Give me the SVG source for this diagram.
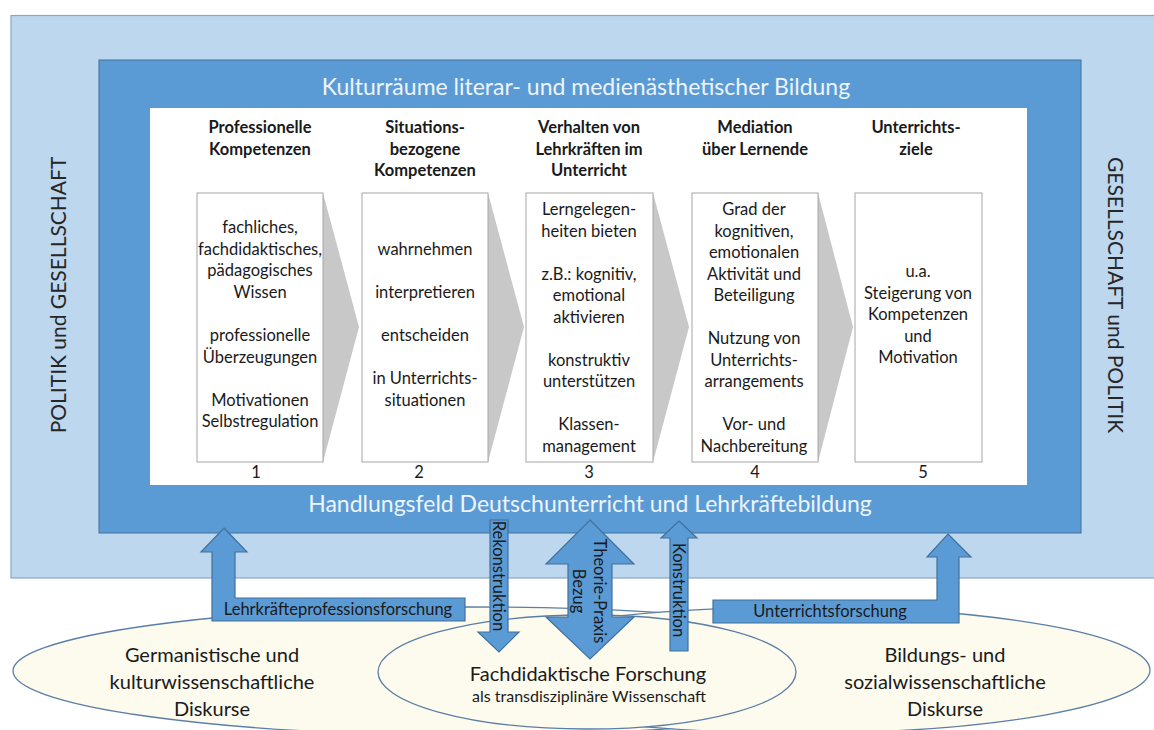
<svg xmlns="http://www.w3.org/2000/svg" width="1154" height="730" viewBox="0 0 1154 730">
<style>
.t{font-family:Lato,"Liberation Sans",sans-serif;font-size:16.5px;fill:#1a1a1a;text-anchor:middle}
.h{font-weight:bold}
.w{fill:#eef4fb;font-size:23px}
.side{font-size:21px;fill:#262626}
.el{font-size:20px}
.box{fill:#fff;stroke:#a6a6a6;stroke-width:1}
.chev{fill:#c8c8c8}
.arr{fill:#5b9bd5;stroke:#41719c;stroke-width:1.2;stroke-linejoin:miter}
.ellf{fill:#fdfaee}
.ello{fill:none;stroke:#5b7ea6;stroke-width:1.3}
</style>
<rect x="0" y="0" width="1154" height="730" fill="#fff"/>
<g id="frame">
<rect x="11" y="15.5" width="1150" height="562.5" fill="#bdd7ee" stroke="#8aa6c3" stroke-width="1.2"/>
<rect x="99" y="60" width="982" height="473" fill="#5b9bd5" stroke="#41719c" stroke-width="1"/>
<rect x="150" y="108" width="877" height="377" fill="#fff"/>
<text class="t w" x="586" y="95">Kulturräume literar- und medienästhetischer Bildung</text>
<text class="t w" x="590" y="512">Handlungsfeld Deutschunterricht und Lehrkräftebildung</text>
<text class="t side" transform="translate(66,295) rotate(-90)">POLITIK und GESELLSCHAFT</text>
<text class="t side" transform="translate(1108,295) rotate(90)">GESELLSCHAFT und POLITIK</text>
</g>
<g id="discourses">
<ellipse class="ellf" cx="470" cy="671" rx="457" ry="64"/>
<ellipse class="ello" cx="470" cy="671" rx="457" ry="64"/>
<ellipse class="ellf" cx="800" cy="670" rx="350" ry="63"/>
<ellipse class="ello" cx="800" cy="670" rx="350" ry="63"/>
<ellipse class="ellf" cx="587" cy="672" rx="209" ry="57"/>
<ellipse class="ello" cx="587" cy="672" rx="209" ry="57"/>
</g>
<g id="node-germanistik">
<text class="t el" x="212" y="662">Germanistische und</text>
<text class="t el" x="212" y="689">kulturwissenschaftliche</text>
<text class="t el" x="212" y="716">Diskurse</text>
</g>
<g id="node-fachdidaktik">
<text class="t el" x="588" y="681">Fachdidaktische Forschung</text>
<text class="t" style="font-size:16px" x="589" y="702">als transdisziplinäre Wissenschaft</text>
</g>
<g id="node-bildung">
<text class="t el" x="945" y="662">Bildungs- und</text>
<text class="t el" x="945" y="689">sozialwissenschaftliche</text>
<text class="t el" x="945" y="716">Diskurse</text>
</g>
<g id="chevrons">
<polygon class="chev" points="323,193 359,327 323,462"/>
<polygon class="chev" points="488,193 524,327 488,462"/>
<polygon class="chev" points="653,193 689,327 653,462"/>
<polygon class="chev" points="818,193 853,327 818,462"/>
</g>
<g id="col1">
<text class="t h" x="260" y="133">Professionelle</text>
<text class="t h" x="260" y="154.5">Kompetenzen</text>
<rect class="box" x="197" y="193" width="126" height="269"/>
<text class="t" x="260" y="233">fachliches,</text>
<text class="t" x="260" y="254.5">fachdidaktisches,</text>
<text class="t" x="260" y="276">pädagogisches</text>
<text class="t" x="260" y="297.5">Wissen</text>
<text class="t" x="260" y="341">professionelle</text>
<text class="t" x="260" y="362.5">Überzeugungen</text>
<text class="t" x="260" y="405.5">Motivationen</text>
<text class="t" x="260" y="427">Selbstregulation</text>
<text class="t" x="256" y="477.5">1</text>
</g>
<g id="col2">
<text class="t h" x="425" y="133">Situations-</text>
<text class="t h" x="425" y="154.5">bezogene</text>
<text class="t h" x="425" y="176">Kompetenzen</text>
<rect class="box" x="362" y="193" width="126" height="269"/>
<text class="t" x="425" y="255">wahrnehmen</text>
<text class="t" x="425" y="298">interpretieren</text>
<text class="t" x="425" y="341">entscheiden</text>
<text class="t" x="425" y="384">in Unterrichts-</text>
<text class="t" x="425" y="405.5">situationen</text>
<text class="t" x="419" y="477.5">2</text>
</g>
<g id="col3">
<text class="t h" x="589" y="133">Verhalten von</text>
<text class="t h" x="589" y="154.5">Lehrkräften im</text>
<text class="t h" x="589" y="176">Unterricht</text>
<rect class="box" x="526" y="193" width="127" height="269"/>
<text class="t" x="589" y="215">Lerngelegen-</text>
<text class="t" x="589" y="236.5">heiten bieten</text>
<text class="t" x="589" y="279.5">z.B.: kognitiv,</text>
<text class="t" x="589" y="301">emotional</text>
<text class="t" x="589" y="322.5">aktivieren</text>
<text class="t" x="589" y="365.5">konstruktiv</text>
<text class="t" x="589" y="387">unterstützen</text>
<text class="t" x="589" y="430">Klassen-</text>
<text class="t" x="589" y="451.5">management</text>
<text class="t" x="589" y="477.5">3</text>
</g>
<g id="col4">
<text class="t h" x="755" y="133">Mediation</text>
<text class="t h" x="755" y="154.5">über Lernende</text>
<rect class="box" x="692" y="193" width="126" height="269"/>
<text class="t" x="754" y="215">Grad der</text>
<text class="t" x="754" y="236.5">kognitiven,</text>
<text class="t" x="754" y="258">emotionalen</text>
<text class="t" x="754" y="279.5">Aktivität und</text>
<text class="t" x="754" y="301">Beteiligung</text>
<text class="t" x="754" y="344">Nutzung von</text>
<text class="t" x="754" y="365.5">Unterrichts-</text>
<text class="t" x="754" y="387">arrangements</text>
<text class="t" x="754" y="430">Vor- und</text>
<text class="t" x="754" y="451.5">Nachbereitung</text>
<text class="t" x="755" y="477.5">4</text>
</g>
<g id="col5">
<text class="t h" x="916" y="133">Unterrichts-</text>
<text class="t h" x="916" y="154.5">ziele</text>
<rect class="box" x="855" y="193" width="127" height="269"/>
<text class="t" x="918" y="277">u.a.</text>
<text class="t" x="918" y="298.5">Steigerung von</text>
<text class="t" x="918" y="320">Kompetenzen</text>
<text class="t" x="918" y="341.5">und</text>
<text class="t" x="918" y="363">Motivation</text>
<text class="t" x="923" y="477.5">5</text>
</g>
<g id="connectors">
<polygon class="arr" points="224,528 247,552 235,552 235,598 465,598 465,621 212,621 212,552 201,552"/>
<text class="t" x="338" y="615">Lehrkräfteprofessionsforschung</text>
<polygon class="arr" points="490,520 508,520 508,632 519,632 499,652 478,632 490,632"/>
<text class="t" transform="translate(493,576) rotate(90)">Rekonstruktion</text>
<polygon class="arr" points="590,520 634,564 612,564 612,617 634,617 590,659 546,617 568,617 568,564 546,564"/>
<text class="t" transform="translate(594,591) rotate(90)">Theorie-Praxis</text>
<text class="t" transform="translate(572.5,591) rotate(90)">Bezug</text>
<polygon class="arr" points="679,521 697,538 688,538 688,651 670,651 670,538 661,538"/>
<text class="t" transform="translate(673,590) rotate(90)">Konstruktion</text>
<polygon class="arr" points="948,534 971,557 959,557 959,623 713,623 713,600 937,600 937,557 927,557"/>
<text class="t" x="830" y="617">Unterrichtsforschung</text>
</g>
</svg>
